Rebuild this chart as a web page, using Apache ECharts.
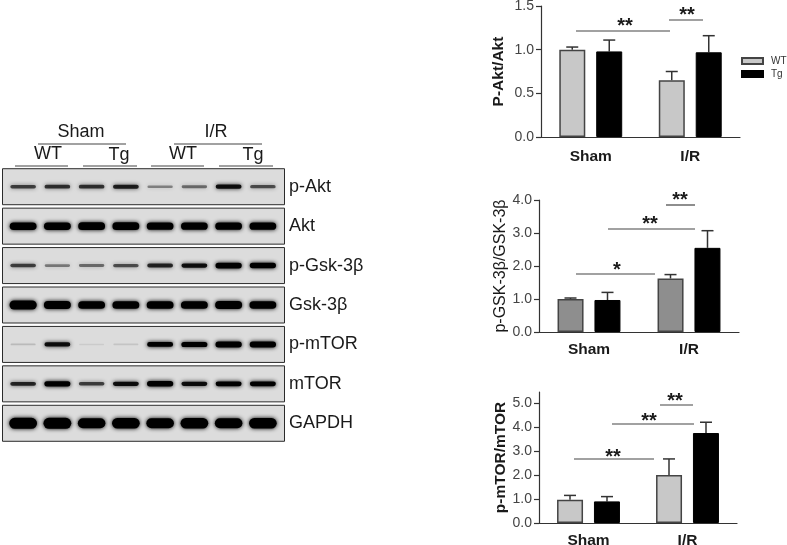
<!DOCTYPE html>
<html>
<head>
<meta charset="utf-8">
<style>
  html, body { margin: 0; background: #fff; }
  #chart { width: 787px; height: 545px; }
</style>
<script src="https://cdn.jsdelivr.net/npm/echarts@6/dist/echarts.min.js"></script>
</head>
<body>
<div id="chart"></div>
<script>
const groups = ["Sham", "I/R"];
const genotypes = ["WT", "Tg"];

// bar heights and the top of each error whisker
const aktWt = [1.0, 0.65];
const aktTg = [0.98, 0.97];
const aktWtTop = [1.03, 0.75];
const aktTgTop = [1.11, 1.16];

const gskWt = [1.0, 1.62];
const gskTg = [0.97, 2.55];
const gskWtTop = [1.03, 1.74];
const gskTgTop = [1.2, 3.07];

const mtorWt = [0.97, 2.0];
const mtorTg = [0.9, 3.75];
const mtorWtTop = [1.15, 2.67];
const mtorTgTop = [1.1, 4.2];

const aktTicks = [0, 0.5, 1, 1.5];
const gskTicks = [0, 1, 2, 3, 4];
const mtorTicks = [0, 1, 2, 3, 4, 5];

// western blot: band strength per lane, 0 = nothing, 1 = saturated
const blotRows = ["p-Akt", "Akt", "p-Gsk-3β", "Gsk-3β", "p-mTOR", "mTOR", "GAPDH"];
const lanes = ["1", "2", "3", "4", "5", "6", "7", "8"];
const pAktBands = [0.2, 0.22, 0.22, 0.25, 0.11, 0.14, 0.28, 0.18];
const aktBands = [0.6, 0.6, 0.62, 0.62, 0.58, 0.58, 0.58, 0.58];
const pGskBands = [0.2, 0.12, 0.14, 0.18, 0.24, 0.28, 0.42, 0.4];
const gskBands = [0.75, 0.65, 0.62, 0.62, 0.62, 0.62, 0.65, 0.6];
const pMtorBands = [0.03, 0.28, 0.005, 0.015, 0.32, 0.36, 0.44, 0.44];
const mtorBands = [0.24, 0.36, 0.2, 0.28, 0.4, 0.28, 0.32, 0.32];
const gapdhBands = [0.95, 0.95, 0.85, 0.9, 0.85, 0.9, 0.85, 0.9];
const allBands = [pAktBands, aktBands, pGskBands, gskBands, pMtorBands, mtorBands, gapdhBands];

const FONT = "Liberation Sans";
const AXIS = "#333";

const charts = [
  { name: "P-Akt/Akt", bold: true, wt: aktWt, tg: aktTg, wtTop: aktWtTop, tgTop: aktTgTop, ticks: aktTicks,
    wtColor: "#c8c8c8", grid: { left: 541, top: 6, width: 199, height: 131 }, max: 1.5, nameGap: 34, catMargin: 12 },
  { name: "p-GSK-3β/GSK-3β", bold: false, wt: gskWt, tg: gskTg, wtTop: gskWtTop, tgTop: gskTgTop, ticks: gskTicks,
    wtColor: "#8e8e8e", grid: { left: 539, top: 200, width: 200, height: 132 }, max: 4, nameGap: 30, catMargin: 10 },
  { name: "p-mTOR/mTOR", bold: true, wt: mtorWt, tg: mtorTg, wtTop: mtorWtTop, tgTop: mtorTgTop, ticks: mtorTicks,
    wtColor: "#c8c8c8", grid: { left: 539, top: 392, width: 198, height: 131 }, max: 5.46, nameGap: 30, catMargin: 10 },
];

const grids = [];
const xAxes = [];
const yAxes = [];
const series = [];

function whisker(side) {
  return function (params, api) {
    const i = api.value(0);
    const base = api.coord([i, api.value(1)]);
    const top = api.coord([i, api.value(2)]);
    const x = base[0] + side * 18.5;
    const style = { stroke: AXIS, lineWidth: 1.5, fill: null };
    return {
      type: "group",
      children: [
        { type: "line", shape: { x1: x, y1: base[1], x2: x, y2: top[1] }, style },
        { type: "line", shape: { x1: x - 6, y1: top[1], x2: x + 6, y2: top[1] }, style },
      ],
    };
  };
}

charts.forEach((c, k) => {
  grids.push({ ...c.grid, outerBoundsMode: "none" });
  xAxes.push({
    type: "category", gridIndex: k, data: groups,
    axisLine: { lineStyle: { color: AXIS, width: 1.2 } },
    axisTick: { alignWithLabel: true, length: 5, lineStyle: { color: AXIS, width: 1.2 } },
    axisLabel: { color: "#1a1a1a", fontFamily: FONT, fontWeight: "bold", fontSize: 15.5, margin: c.catMargin },
  });
  yAxes.push({
    type: "value", gridIndex: k, min: 0, max: c.max,
    name: c.name, nameLocation: "middle", nameGap: c.nameGap, nameRotate: 90,
    nameTextStyle: { color: "#1a1a1a", fontFamily: FONT, fontSize: c.bold ? 15.5 : 16, fontWeight: c.bold ? "bold" : "normal" },
    splitLine: { show: false },
    axisLine: { show: true, lineStyle: { color: AXIS, width: 1.2 } },
    axisTick: { show: true, length: 5, customValues: c.ticks, lineStyle: { color: AXIS, width: 1.2 } },
    axisLabel: { color: "#444", fontFamily: FONT, fontSize: 14, margin: 7, customValues: c.ticks, formatter: (v) => v.toFixed(1) },
  });
  series.push(
    { name: genotypes[0], type: "bar", xAxisIndex: k, yAxisIndex: k, data: c.wt, barWidth: 26, barGap: "42%",
      itemStyle: { color: c.wtColor, borderColor: "#444", borderWidth: 1.5 } },
    { name: genotypes[1], type: "bar", xAxisIndex: k, yAxisIndex: k, data: c.tg, barWidth: 26, barGap: "42%",
      itemStyle: { color: "#000", borderColor: "#000", borderWidth: 1 } },
    { type: "custom", xAxisIndex: k, yAxisIndex: k, silent: true, renderItem: whisker(-1),
      data: c.wt.map((v, i) => [i, v, c.wtTop[i]]) },
    { type: "custom", xAxisIndex: k, yAxisIndex: k, silent: true, renderItem: whisker(1),
      data: c.tg.map((v, i) => [i, v, c.tgTop[i]]) }
  );
});

// blot panels and bands share one lane x row grid
const blotIndex = charts.length;
grids.push({ left: 6, top: 167, width: 274, height: 276, outerBoundsMode: "none" });
xAxes.push({ type: "category", gridIndex: blotIndex, data: lanes, show: false });
yAxes.push({
  type: "category", gridIndex: blotIndex, data: blotRows, inverse: true, position: "right",
  axisLine: { show: false }, axisTick: { show: false }, splitLine: { show: false },
  axisLabel: { color: "#1a1a1a", fontFamily: FONT, fontSize: 18, margin: 9 },
});
series.push({
  type: "custom", xAxisIndex: blotIndex, yAxisIndex: blotIndex, silent: true, clip: false, z: 1,
  data: blotRows.map((r, j) => [0, j]),
  renderItem(params, api) {
    const y = api.coord([0, api.value(1)])[1];
    return {
      type: "rect",
      shape: { x: params.coordSys.x - 3.5, y: y - 18, width: params.coordSys.width + 8, height: 36 },
      style: { fill: "#dcdcdc", stroke: "#2b2b2b", lineWidth: 1 },
    };
  },
});
series.push({
  type: "custom", xAxisIndex: blotIndex, yAxisIndex: blotIndex, silent: true, clip: false, z: 2,
  data: allBands.flatMap((row, j) => row.map((v, i) => [i, j, v])),
  renderItem(params, api) {
    const p = api.coord([api.value(0), api.value(1)]);
    const v = api.value(2);
    const h = 1.5 + 10 * v;
    const w = 25 + 3 * v;
    const a = Math.min(1, 0.06 + v * 3);
    return {
      type: "rect",
      shape: { x: p[0] - w / 2, y: p[1] - h / 2, width: w, height: h, r: h / 2 },
      style: { fill: "rgba(0,0,0," + a + ")", shadowBlur: 4, shadowColor: "rgba(0,0,0," + a + ")" },
    };
  },
});

// hand placed annotations: header labels, group rules and significance marks
function rule(x1, x2, y) {
  return { type: "line", shape: { x1, y1: y, x2, y2: y }, style: { stroke: "#444", lineWidth: 1.2 }, z: 10 };
}
function label(text, x, y, fontSize, fontWeight) {
  return { type: "text", x, y, z: 10,
    style: { text, fontFamily: FONT, fontSize, fontWeight: fontWeight || "normal", fill: "#1a1a1a", align: "center", verticalAlign: "middle" } };
}
function stars(text, x, y) {
  return label(text, x, y, 20, "bold");
}

const annotations = [
  label(groups[0], 81, 132, 18), rule(38, 126, 144),
  label(groups[1], 216, 132, 18), rule(174, 262, 144),
  label(genotypes[0], 48, 154, 18), rule(15, 68, 166),
  label(genotypes[1], 119, 155, 18), rule(83, 137, 166),
  label(genotypes[0], 183, 154, 18), rule(151, 204, 166),
  label(genotypes[1], 253, 155, 18), rule(219, 273, 166),

  rule(576, 670, 31), stars("**", 625, 26),
  rule(669, 703, 20), stars("**", 687, 15),

  rule(576, 655, 274), stars("*", 617, 270),
  rule(608, 695, 229), stars("**", 650, 224),
  rule(666, 695, 205), stars("**", 680, 200),

  rule(574, 654, 459), stars("**", 613, 457),
  rule(612, 694, 424), stars("**", 649, 421),
  rule(660, 693, 405), stars("**", 675, 401),
];

const chart = echarts.init(document.getElementById("chart"));
chart.setOption({
  animation: false,
  backgroundColor: "#fff",
  legend: {
    data: genotypes, selectedMode: false, orient: "vertical", left: 741, top: 56,
    padding: 0, icon: "rect", itemWidth: 21, itemHeight: 6, itemGap: 3,
    textStyle: { fontFamily: FONT, fontSize: 10, color: "#333", padding: [0, 0, 0, 3] },
  },
  grid: grids,
  xAxis: xAxes,
  yAxis: yAxes,
  series,
  graphic: annotations,
});
</script>
</body>
</html>
